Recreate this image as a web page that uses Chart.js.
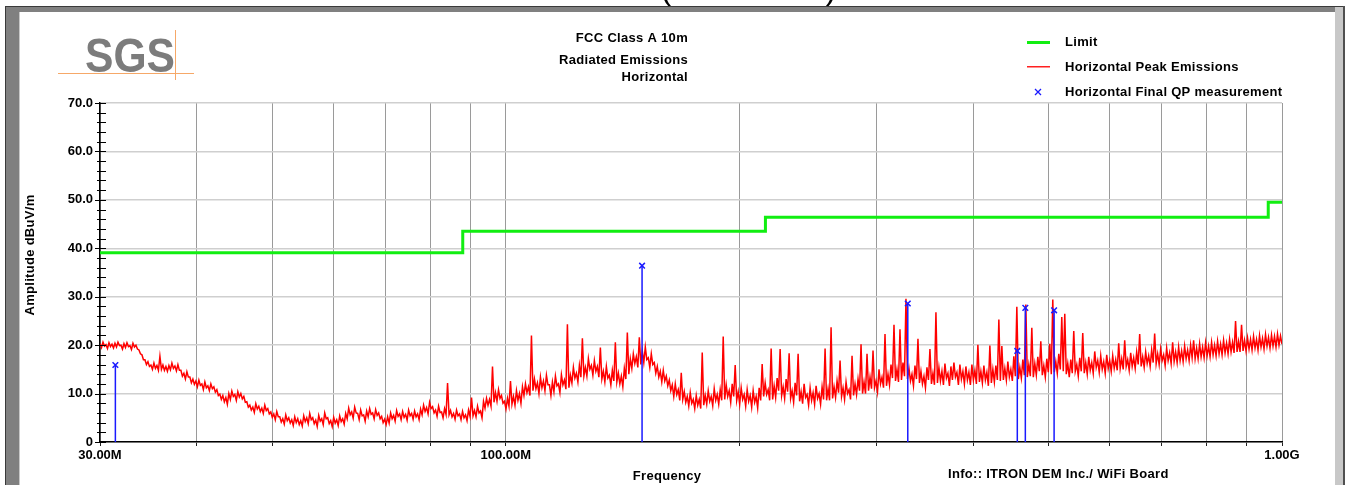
<!DOCTYPE html>
<html>
<head>
<meta charset="utf-8">
<script src="https://cdn.jsdelivr.net/npm/chart.js@4.4.0/dist/chart.umd.min.js"></script>
<style>
  html, body { margin: 0; padding: 0; background: #fff; overflow: hidden; }
  canvas { display: block; }
</style>
</head>
<body>
<canvas id="emissoes" width="1347" height="485"></canvas>
<script>
// limite FCC classe A, 10 m (degraus)
var limiteMHz = [30, 88, 216, 960, 1000];
var limiteDbuv = [39.1, 43.5, 46.4, 49.5, 49.5];

// medidas finais quasi-pico
var qpMHz = [31.4, 149.8, 329.5, 456.0, 467.0, 508.6];
var qpDbuv = [15.9, 36.4, 28.6, 18.8, 27.7, 27.2];

// varredura de pico, 30 MHz a 1 GHz em passos logaritmicos:
// topo e fundo da faixa de ruido em cada passo
var picoInicioMHz = 30;
var picoFimMHz = 1000;
var picoAlto = [
	20.3, 20.6, 20.1, 20.5, 20.2, 20.4, 20.6, 20.0, 20.3, 20.5,
	19.9, 20.4, 20.0, 19.0, 18.0, 17.0, 16.6, 15.9, 16.3, 15.8,
	17.7, 15.9, 15.6, 15.8, 16.3, 15.7, 16.0, 14.8, 14.2, 14.5,
	13.4, 13.0, 12.6, 12.8, 12.0, 12.4, 11.6, 12.0, 11.4, 10.8,
	9.9, 9.6, 9.2, 10.0, 10.5, 9.8, 10.4, 10.0, 9.4, 8.3,
	7.6, 7.2, 7.9, 7.4, 7.0, 7.6, 6.9, 6.2, 5.8, 6.3,
	5.2, 4.8, 5.6, 5.0, 4.6, 5.2, 4.8, 4.4, 5.4, 5.0,
	5.9, 5.0, 4.5, 5.5, 4.8, 6.0, 5.0, 4.4, 5.1, 4.6,
	5.4, 4.8, 5.9, 7.0, 6.2, 7.2, 5.9, 6.6, 5.6, 6.4,
	6.9, 6.0, 6.7, 6.0, 5.3, 4.7, 5.2, 6.0, 5.5, 6.5,
	5.8, 6.3, 5.7, 6.6, 5.9, 6.4, 5.8, 6.8, 7.6, 7.1,
	8.2, 7.3, 6.6, 7.4, 6.2, 6.9, 12.2, 6.5, 5.9, 6.6,
	5.8, 6.3, 5.6, 6.6, 9.2, 6.5, 7.4, 6.4, 8.4, 9.0,
	8.8, 15.6, 10.2, 10.8, 9.6, 8.4, 9.0, 12.6, 9.4, 10.6,
	10.0, 11.4, 12.0, 11.4, 22.0, 13.0, 12.2, 13.4, 12.6, 13.8,
	11.8, 12.4, 13.6, 12.0, 13.9, 12.8, 24.3, 13.8, 15.4, 14.2,
	15.8, 21.4, 15.4, 17.2, 15.8, 16.8, 15.6, 19.5, 14.6, 15.6,
	13.8, 14.8, 20.6, 14.2, 13.6, 15.2, 22.6, 17.2, 18.2, 17.6,
	21.6, 18.8, 19.6, 17.4, 18.2, 16.4, 15.6, 14.6, 14.8, 13.6,
	12.8, 11.8, 12.0, 10.8, 14.3, 10.4, 9.4, 10.2, 8.8, 9.6,
	8.8, 18.5, 9.6, 10.6, 9.4, 11.0, 9.8, 10.8, 21.8, 11.8,
	10.6, 12.0, 15.9, 10.4, 11.2, 9.8, 10.8, 9.6, 10.6, 9.4,
	11.2, 16.1, 12.2, 10.8, 19.3, 11.6, 13.2, 19.2, 11.4, 13.0,
	18.3, 10.6, 12.2, 18.2, 10.4, 12.0, 9.8, 11.2, 10.2, 11.6,
	10.0, 11.4, 19.3, 11.0, 23.7, 11.4, 12.6, 16.8, 11.2, 12.4,
	10.8, 17.8, 12.0, 13.0, 20.2, 12.4, 18.2, 13.4, 18.9, 12.6,
	15.0, 13.4, 22.3, 14.0, 16.0, 24.2, 15.0, 23.3, 16.4, 29.6,
	15.2, 14.0, 15.8, 21.3, 14.6, 13.6, 15.4, 19.2, 14.2, 26.8,
	15.4, 14.6, 16.2, 14.2, 15.6, 16.4, 14.4, 16.0, 14.6, 15.6,
	14.4, 16.0, 14.8, 20.1, 14.6, 15.8, 14.4, 19.9, 15.0, 15.8,
	25.3, 19.8, 15.2, 16.6, 15.0, 17.7, 27.9, 15.4, 17.0, 28.4,
	16.0, 23.6, 16.2, 17.6, 20.8, 15.8, 17.2, 20.3, 29.4, 16.6,
	18.2, 25.8, 26.5, 16.2, 17.0, 22.9, 16.0, 17.4, 22.5, 16.4,
	17.6, 16.4, 18.7, 16.8, 17.8, 16.6, 18.0, 16.8, 17.8, 17.0,
	20.4, 17.2, 21.0, 17.0, 18.4, 17.4, 18.6, 22.3, 17.6, 18.6,
	17.8, 19.0, 22.4, 18.2, 19.2, 18.0, 19.4, 18.4, 20.6, 18.6,
	19.6, 18.8, 19.8, 19.0, 20.0, 21.0, 19.4, 20.3, 19.6, 20.5,
	19.8, 20.6, 20.0, 20.8, 20.2, 21.0, 20.4, 21.2, 20.6, 25.0,
	20.8, 24.2, 21.0, 21.5, 21.2, 21.8, 21.2, 22.0, 21.4, 22.2,
	21.6, 22.1, 21.8, 22.3, 21.9
];
var picoBaixo = [
	19.5, 19.8, 19.3, 19.7, 19.4, 19.6, 19.9, 19.2, 19.5, 19.7,
	19.1, 19.6, 19.2, 18.2, 17.0, 16.0, 15.6, 15.0, 15.2, 14.8,
	15.0, 14.8, 14.6, 14.9, 15.2, 14.7, 14.8, 13.6, 13.0, 13.4,
	12.2, 11.9, 11.4, 11.7, 10.8, 11.2, 10.6, 11.0, 10.3, 9.6,
	8.8, 8.3, 7.8, 8.8, 9.4, 8.6, 9.3, 8.9, 8.2, 7.2,
	6.6, 6.1, 6.8, 6.3, 5.9, 6.5, 5.8, 5.1, 4.6, 5.2,
	4.1, 3.7, 4.4, 3.9, 3.4, 4.0, 3.6, 3.3, 4.2, 3.8,
	4.6, 3.8, 3.2, 4.3, 3.6, 4.8, 3.8, 3.2, 3.9, 3.4,
	4.2, 3.7, 4.8, 5.6, 4.9, 6.0, 4.6, 5.4, 4.3, 5.2,
	5.7, 4.8, 5.5, 4.8, 4.0, 3.6, 3.9, 4.8, 4.3, 5.3,
	4.6, 5.1, 4.5, 5.4, 4.7, 5.2, 4.6, 5.6, 6.3, 5.8,
	6.9, 6.0, 5.3, 6.1, 5.0, 5.7, 5.6, 5.2, 4.7, 5.4,
	4.6, 5.0, 4.4, 5.3, 5.4, 5.2, 6.0, 5.0, 7.0, 7.6,
	7.4, 8.2, 8.4, 9.0, 8.0, 6.8, 7.4, 7.8, 7.6, 8.6,
	8.0, 9.6, 10.2, 9.6, 10.6, 11.0, 10.0, 11.2, 10.6, 11.8,
	9.6, 10.4, 11.6, 10.2, 11.8, 10.9, 11.2, 12.2, 13.2, 12.4,
	13.4, 13.6, 13.6, 15.0, 13.8, 14.6, 13.4, 13.0, 12.4, 13.2,
	11.8, 12.6, 12.4, 12.0, 11.4, 13.0, 14.0, 15.2, 16.2, 15.4,
	16.0, 16.4, 17.0, 15.4, 16.0, 14.2, 13.4, 12.4, 12.6, 11.6,
	10.6, 9.4, 9.8, 8.6, 8.8, 8.2, 7.4, 8.0, 6.9, 7.6,
	6.9, 7.6, 7.8, 8.4, 7.5, 8.6, 7.8, 8.6, 8.8, 9.4,
	8.2, 9.4, 8.6, 7.8, 8.8, 7.4, 8.4, 7.2, 8.2, 7.0,
	8.6, 9.4, 9.8, 8.6, 8.8, 9.2, 10.6, 9.6, 9.0, 10.4,
	9.0, 8.2, 9.6, 8.4, 7.9, 9.2, 7.6, 8.6, 7.8, 9.0,
	7.8, 8.8, 8.6, 8.6, 9.0, 9.2, 10.2, 9.4, 8.8, 10.0,
	8.8, 9.6, 9.8, 10.6, 10.0, 10.0, 10.6, 11.0, 11.2, 10.4,
	12.0, 11.2, 11.6, 11.8, 13.2, 12.6, 12.4, 12.8, 13.6, 13.0,
	12.6, 11.6, 13.0, 12.2, 12.0, 11.2, 12.8, 12.0, 11.8, 12.2,
	12.6, 11.8, 13.2, 11.6, 12.8, 13.4, 11.8, 13.0, 12.0, 12.8,
	11.8, 12.8, 12.0, 12.4, 12.2, 12.8, 11.6, 12.2, 12.4, 12.8,
	12.6, 12.8, 12.8, 13.4, 12.6, 13.6, 13.0, 13.2, 13.8, 13.4,
	13.6, 13.4, 13.8, 14.6, 13.8, 13.4, 14.4, 14.0, 14.4, 14.2,
	15.0, 14.6, 14.0, 13.4, 14.2, 14.6, 13.6, 14.6, 14.2, 14.0,
	14.8, 14.2, 15.4, 14.4, 15.0, 14.2, 15.2, 14.6, 15.2, 14.8,
	15.2, 15.0, 15.6, 14.8, 15.6, 15.2, 16.0, 15.6, 15.4, 16.2,
	15.6, 16.4, 16.2, 16.0, 16.8, 15.8, 16.8, 16.2, 16.6, 16.4,
	16.8, 16.6, 17.2, 16.8, 17.4, 17.2, 17.2, 17.6, 17.4, 17.8,
	17.6, 18.0, 17.8, 18.2, 18.0, 18.4, 18.2, 18.6, 18.4, 18.6,
	18.6, 18.8, 18.8, 19.2, 19.0, 19.4, 19.0, 19.6, 19.2, 19.8,
	19.4, 19.8, 19.6, 20.0, 20.2
];

// eixo de frequencia
var gradeMHz = [30, 40, 50, 60, 70, 80, 90, 100, 200, 300, 400, 500, 600, 700, 800, 900, 1000];
var rotulosFreq = { 30: '30.00M', 100: '100.00M', 1000: '1.00G' };

var fonte = '"Liberation Sans", Arial, sans-serif';

// intercala topo e fundo: dois pontos por passo da varredura
function pegarPico() {
	let pontos = [];
	let total = picoAlto.length * 2 - 1;
	let razao = picoFimMHz / picoInicioMHz;
	for (let i = 0; i < picoAlto.length; i++) {
		pontos.push({ x: picoInicioMHz * Math.pow(razao, (2 * i) / total), y: picoAlto[i] });
		pontos.push({ x: picoInicioMHz * Math.pow(razao, (2 * i + 1) / total), y: picoBaixo[i] });
	}
	return pontos;
}

function pegarLimite() {
	let pontos = [];
	for (let i = 0; i < limiteMHz.length; i++) {
		pontos.push({ x: limiteMHz[i], y: limiteDbuv[i] });
	}
	return pontos;
}

function pegarQP() {
	let pontos = [];
	for (let i = 0; i < qpMHz.length; i++) {
		pontos.push({ x: qpMHz[i], y: qpDbuv[i] });
	}
	return pontos;
}

// hastes verticais das medidas QP, do zero ate o valor
function pegarHastes() {
	let pontos = [];
	for (let i = 0; i < qpMHz.length; i++) {
		pontos.push({ x: qpMHz[i], y: 0 });
		pontos.push({ x: qpMHz[i], y: qpDbuv[i] });
		pontos.push({ x: qpMHz[i], y: null });
	}
	return pontos;
}

var moldura = {
	id: 'moldura',
	beforeDraw: function (chart) {
		let ctx = chart.ctx;
		ctx.save();
		ctx.fillStyle = '#ffffff';
		ctx.fillRect(0, 0, chart.width, chart.height);

		// titulo grande cortado no topo
		ctx.fillStyle = '#000';
		ctx.font = '32px ' + fonte;
		ctx.textAlign = 'center';
		ctx.textBaseline = 'alphabetic';
		ctx.fillText('Horizontal (30M-1GHz)', 672, -1);

		// borda em relevo
		ctx.fillStyle = '#3a3a3a';
		ctx.fillRect(5, 6, 1340, 1);
		ctx.fillRect(5, 6, 1, 479);
		ctx.fillStyle = '#808080';
		ctx.fillRect(6, 7, 1329, 5);
		ctx.fillRect(6, 7, 13, 478);
		ctx.fillStyle = '#c8c8c8';
		ctx.fillRect(1335, 7, 8, 478);
		ctx.fillRect(19, 12, 1, 473);
		ctx.fillStyle = '#505050';
		ctx.fillRect(1343, 6, 2, 479);
		ctx.restore();
	},
	afterDraw: function (chart) {
		let ctx = chart.ctx;
		let y = chart.scales.y;
		ctx.save();

		// marcas do eixo y
		ctx.strokeStyle = '#000';
		ctx.lineWidth = 1;
		ctx.beginPath();
		y.ticks.forEach(function (t) {
			let py = Math.round(y.getPixelForValue(t.value)) + 0.5;
			let maior = t.value % 10 === 0;
			ctx.moveTo(y.right - (maior ? 5 : 3), py);
			ctx.lineTo(y.right + 6, py);
		});
		ctx.stroke();

		// logotipo
		ctx.fillStyle = '#7c7c7c';
		ctx.font = 'bold 48px ' + fonte;
		ctx.textAlign = 'left';
		ctx.textBaseline = 'alphabetic';
		let larg = ctx.measureText('SGS').width;
		ctx.save();
		ctx.translate(85, 72);
		ctx.scale(90 / larg, 1);
		ctx.fillText('SGS', 0, 0);
		ctx.restore();
		ctx.fillStyle = '#f6a868';
		ctx.fillRect(175, 30, 1, 50);
		ctx.fillRect(58, 73, 136, 1);

		// cabecalho
		ctx.fillStyle = '#000';
		ctx.font = 'bold 13px ' + fonte;
		ctx.letterSpacing = '0.3px';
		ctx.textAlign = 'right';
		ctx.textBaseline = 'middle';
		ctx.fillText('FCC Class A 10m', 688, 38);
		ctx.fillText('Radiated Emissions', 688, 60);
		ctx.fillText('Horizontal', 688, 77);

		// legenda
		ctx.fillStyle = '#11ee11';
		ctx.fillRect(1027, 41, 23, 3);
		ctx.fillStyle = '#ff2020';
		ctx.fillRect(1027, 66, 23, 1.5);
		ctx.strokeStyle = '#1a1aff';
		ctx.lineWidth = 1.3;
		ctx.beginPath();
		ctx.moveTo(1035, 89); ctx.lineTo(1041, 95);
		ctx.moveTo(1041, 89); ctx.lineTo(1035, 95);
		ctx.stroke();
		ctx.fillStyle = '#000';
		ctx.textAlign = 'left';
		ctx.fillText('Limit', 1065, 42);
		ctx.fillText('Horizontal Peak Emissions', 1065, 67);
		ctx.fillText('Horizontal Final QP measurement', 1065, 92);

		// titulos dos eixos e rodape
		ctx.save();
		ctx.translate(30, 255);
		ctx.rotate(-Math.PI / 2);
		ctx.textAlign = 'center';
		ctx.fillText('Amplitude dBuV/m', 0, 0);
		ctx.restore();
		ctx.textAlign = 'center';
		ctx.fillText('Frequency', 667, 476);
		ctx.textAlign = 'left';
		ctx.fillText('Info:: ITRON DEM Inc./ WiFi Board', 948, 474);
		ctx.restore();
	}
};

function carregarGrafico() {
	let canvas = document.getElementById('emissoes');

	let grafico = new Chart(canvas, {
		type: 'line',
		data: {
			datasets: [{
				type: 'scatter',
				label: 'Horizontal Final QP measurement',
				data: pegarQP(),
				pointStyle: 'crossRot',
				pointRadius: 4,
				borderColor: '#1a1aff',
				backgroundColor: '#1a1aff',
				pointBorderWidth: 1.5,
				order: 0
			}, {
				label: 'QP',
				data: pegarHastes(),
				borderColor: '#1a1aff',
				borderWidth: 1.5,
				pointRadius: 0,
				spanGaps: false,
				order: 1
			}, {
				label: 'Limit',
				data: pegarLimite(),
				borderColor: '#11ee11',
				borderWidth: 3,
				pointRadius: 0,
				stepped: true,
				order: 2
			}, {
				label: 'Horizontal Peak Emissions',
				data: pegarPico(),
				borderColor: '#ff0000',
				borderWidth: 1.5,
				pointRadius: 0,
				tension: 0,
				order: 3
			}]
		},
		options: {
			responsive: false,
			animation: false,
			events: [],
			layout: {
				padding: { left: 40, right: 65, top: 103, bottom: 13 }
			},
			plugins: {
				legend: { display: false },
				tooltip: { enabled: false },
				title: { display: false }
			},
			scales: {
				x: {
					type: 'logarithmic',
					min: 30,
					max: 1000,
					afterBuildTicks: function (escala) {
						escala.ticks = gradeMHz.map(function (v) { return { value: v }; });
					},
					afterFit: function (escala) {
						escala.height = 30;
					},
					ticks: {
						autoSkip: false,
						maxRotation: 0,
						padding: 2,
						color: '#000',
						font: { family: fonte, size: 13, weight: 'bold' },
						callback: function (v) {
							return rotulosFreq[v] || '';
						}
					},
					grid: {
						color: '#9a9a9a',
						lineWidth: 1,
						tickLength: 4,
						tickColor: '#222'
					},
					border: { color: '#000', width: 1.5 }
				},
				y: {
					min: 0,
					max: 70,
					afterFit: function (escala) {
						escala.width = 60;
					},
					ticks: {
						stepSize: 2,
						autoSkip: false,
						padding: 7,
						color: '#000',
						font: { family: fonte, size: 13, weight: 'bold' },
						callback: function (v) {
							if (v % 10 !== 0) return '';
							return v === 0 ? '0' : v.toFixed(1);
						}
					},
					grid: {
						drawTicks: false,
						lineWidth: 1.5,
						color: function (c) {
							return c.tick && c.tick.value % 10 === 0 ? '#cfcfcf' : 'rgba(0,0,0,0)';
						}
					},
					border: { color: '#000', width: 1.5 }
				}
			}
		},
		plugins: [moldura]
	});
}

carregarGrafico();
</script>
</body>
</html>
